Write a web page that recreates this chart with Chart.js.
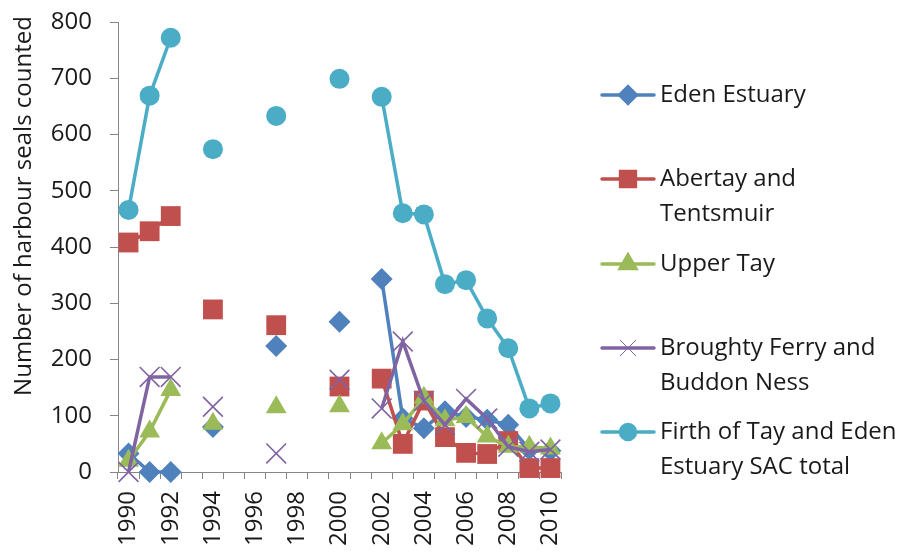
<!DOCTYPE html>
<html>
<head>
<meta charset="utf-8">
<script src="https://cdn.jsdelivr.net/npm/chart.js@4.4.1/dist/chart.umd.min.js"></script>
<style>
  html, body { margin: 0; padding: 0; background: #ffffff; }
  #wrap { position: relative; width: 906px; height: 555px; }
</style>
</head>
<body>
<div id="wrap"><canvas id="c" width="906" height="555"></canvas></div>
<script>
const years = ['1990','1991','1992','1993','1994','1995','1996','1997','1998','1999','2000',
               '2001','2002','2003','2004','2005','2006','2007','2008','2009','2010'];
const shownYearLabels = ['1990','1992','1994','1996','1998','2000','2002','2004','2006','2008','2010'];

const seriesNames = ['Eden Estuary', 'Abertay and Tentsmuir', 'Upper Tay',
                     'Broughty Ferry and Buddon Ness', 'Firth of Tay and Eden Estuary SAC total'];
const legendLines = [['Eden Estuary'], ['Abertay and', 'Tentsmuir'], ['Upper Tay'],
                     ['Broughty Ferry and', 'Buddon Ness'], ['Firth of Tay and Eden', 'Estuary SAC total']];
const yAxisTitle = 'Number of harbour seals counted';

const edenEstuary = [33, 0, 0, null, 80, null, null, 224, null, null, 267,
                     null, 343, 95, 78, 108, 98, 93, 84, 40, 38];
const abertayTentsmuir = [408, 428, 455, null, 289, null, null, 261, null, null, 152,
                          null, 166, 50, 127, 62, 34, 32, 55, 7, 7];
const upperTay = [20, 72, 146, null, 86, null, null, 115, null, null, 117,
                  null, 51, 85, 132, 92, 98, 63, 45, 45, 42];
const broughtyFerry = [0, 169, 169, null, 116, null, null, 33, null, null, 164,
                       null, 113, 232, 126, 84, 130, 95, 45, 36, 40];
const firthTotal = [466, 669, 772, null, 574, null, null, 633, null, null, 699,
                    null, 667, 460, 458, 334, 341, 273, 220, 113, 122];

const yTicksMax = 800, yTickStep = 100;

const FONT = '"Open Sans", "Liberation Sans", sans-serif';
const TEXT = '#1a1a1a';
const colors = ['#4F81BD', '#C0504D', '#9BBB59', '#8064A2', '#4BACC6'];
const styles = ['rectRot', 'rect', 'triangle', 'crossRot', 'circle'];
const radii = [11, 14, 12, 14, 10];
const values = [edenEstuary, abertayTentsmuir, upperTay, broughtyFerry, firthTotal];

const datasets = values.map((v, i) => ({
  label: seriesNames[i],
  data: v,
  borderColor: colors[i],
  backgroundColor: colors[i],
  borderWidth: 3.5,
  pointStyle: styles[i],
  pointRadius: radii[i],
  pointHoverRadius: radii[i],
  pointBorderWidth: styles[i] === 'crossRot' ? 1.6 : 0,
  pointBorderColor: colors[i],
  pointBackgroundColor: colors[i],
  spanGaps: false,
  tension: 0,
  clip: false,
  order: 5 - i
}));

const customLegend = {
  id: 'customLegend',
  afterDraw(chart) {
    const ctx = chart.ctx;
    const ys = [95, 179, 264, 348, 432];
    ctx.save();
    ctx.save();
    ctx.translate(24, 206);
    ctx.rotate(-Math.PI / 2);
    ctx.fillStyle = TEXT;
    ctx.font = '24px ' + FONT;
    ctx.textAlign = 'center';
    ctx.textBaseline = 'middle';
    ctx.fillText(yAxisTitle, 0, 0);
    ctx.restore();
    chart.data.datasets.forEach((ds, i) => {
      const y = ys[i];
      ctx.strokeStyle = ds.borderColor;
      ctx.lineWidth = 3.5;
      ctx.lineCap = 'round';
      ctx.beginPath();
      ctx.moveTo(602, y);
      ctx.lineTo(654, y);
      ctx.stroke();
      ctx.fillStyle = ds.backgroundColor;
      ctx.strokeStyle = ds.borderColor;
      ctx.lineWidth = ds.pointStyle === 'crossRot' ? 1 : 0;
      const r = ds.pointStyle === 'crossRot' ? 11 : ds.pointRadius * 0.75;
      Chart.helpers.drawPoint(ctx, { pointStyle: ds.pointStyle, radius: r, borderWidth: ctx.lineWidth, rotation: 0 }, 628, y);
      ctx.fillStyle = TEXT;
      ctx.font = '24px ' + FONT;
      ctx.textBaseline = 'middle';
      ctx.textAlign = 'left';
      legendLines[i].forEach((t, k) => ctx.fillText(t, 660, y + k * 35));
    });
    ctx.restore();
  }
};

new Chart(document.getElementById('c'), {
  type: 'line',
  data: { labels: years, datasets },
  options: {
    responsive: false,
    animation: false,
    events: [],
    layout: { padding: { left: 0, top: 22, right: 345, bottom: 0 } },
    plugins: { legend: { display: false }, tooltip: { enabled: false } },
    scales: {
      x: {
        type: 'category',
        offset: true,
        grid: { display: true, drawOnChartArea: false, offset: true, tickLength: 7, color: '#868686', lineWidth: 1 },
        border: { display: true, color: '#868686', width: 1 },
        ticks: {
          autoSkip: false, minRotation: 90, maxRotation: 90, padding: 12,
          color: TEXT, font: { size: 24, family: FONT },
          callback: function (val) {
            const l = this.getLabelForValue(val);
            return shownYearLabels.includes(l) ? l : '';
          }
        },
        afterFit(scale) { scale.height = 83; scale.paddingLeft = 0; scale.paddingRight = 0; }
      },
      y: {
        min: 0, max: yTicksMax,
        grid: { display: true, drawOnChartArea: false, tickLength: 8, color: '#868686' },
        border: { display: true, color: '#868686', width: 1 },
        ticks: { stepSize: yTickStep, padding: 18, color: TEXT, font: { size: 24, family: FONT } },
        afterFit(scale) { scale.width = 118; scale.paddingTop = 0; scale.paddingBottom = 0; }
      }
    }
  },
  plugins: [customLegend]
});
</script>
</body>
</html>
